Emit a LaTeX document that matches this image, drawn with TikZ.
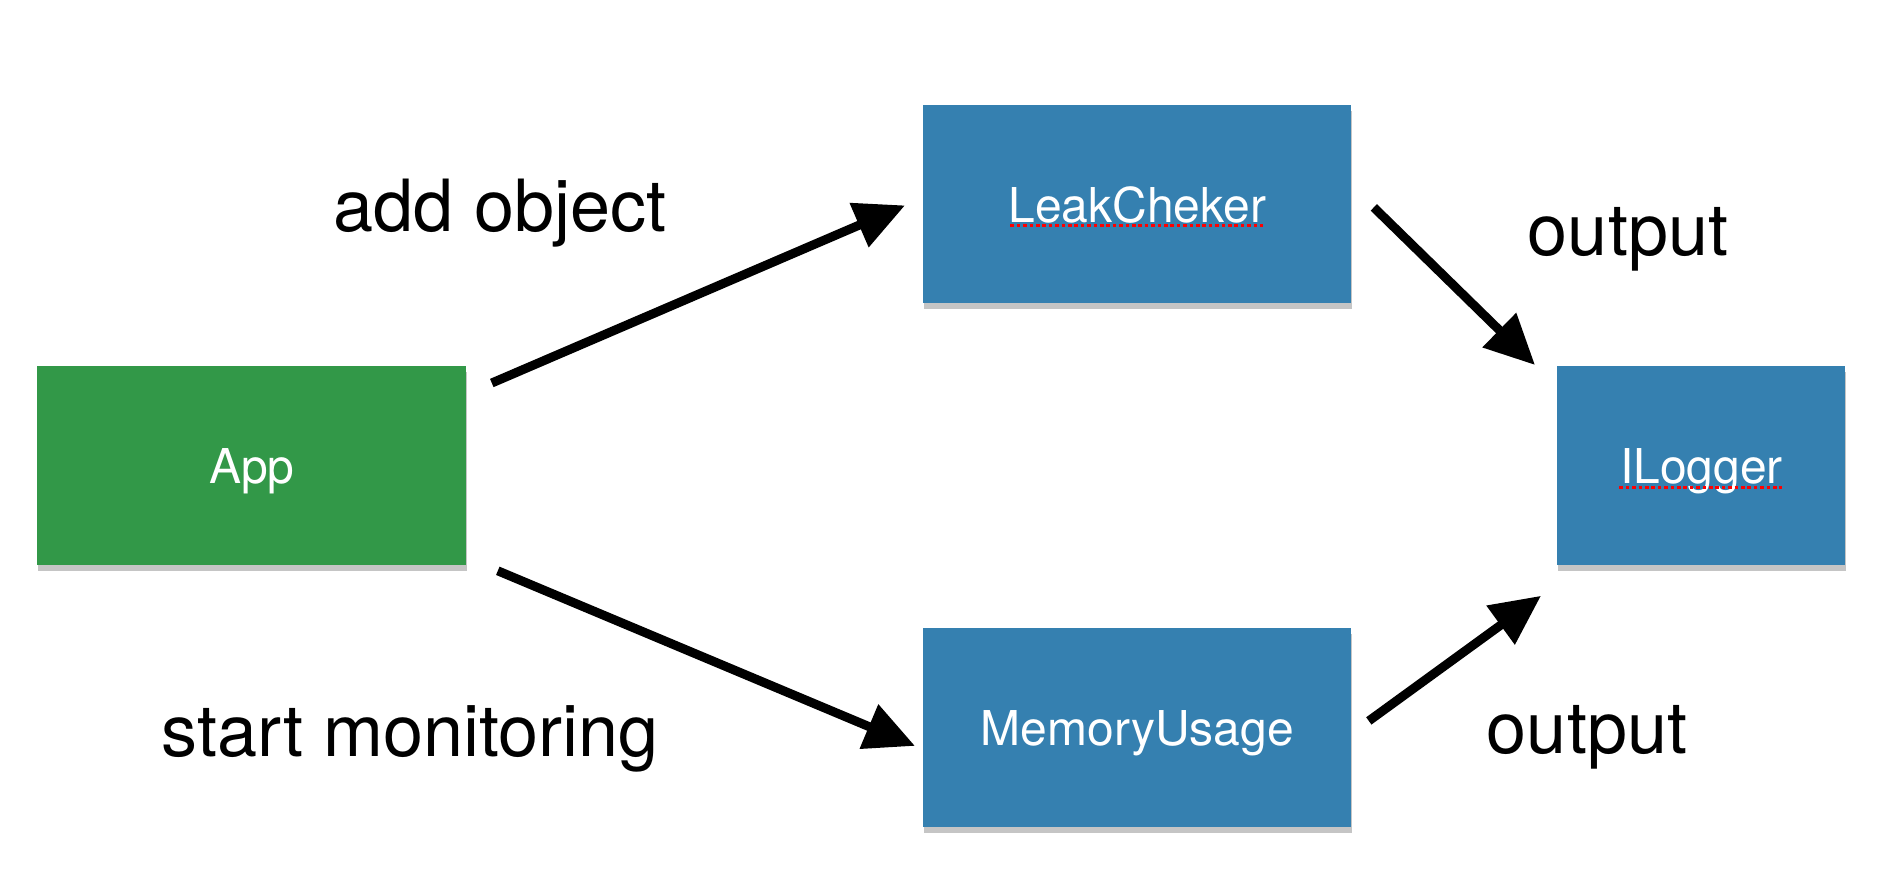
\documentclass[tikz,border=0pt]{standalone}
\usepackage{fontspec}
\setmainfont{TeX Gyre Heros}
\usetikzlibrary{arrows.meta,shadows,calc}
\definecolor{appgreen}{RGB}{50,152,72}
\definecolor{boxblue}{RGB}{53,128,176}
\begin{document}
\begin{tikzpicture}[x=0.5pt,y=-0.5pt,
  box/.style={draw=none, inner sep=0pt, anchor=north west, text=white,
    font=\fontsize{24}{28}\selectfont, text height=18pt, text depth=0pt,
    drop shadow={shadow xshift=0.5pt, shadow yshift=-3pt, opacity=0.35, fill=black!65}},
  lbl/.style={anchor=base, font=\fontsize{36}{42}\selectfont, inner sep=0pt},
  arr/.style={line width=4.5pt, black, -{Triangle[length=25pt,width=23pt]}},
  spell/.style={red, line width=1.8pt, dash pattern=on 1.8pt off 1.4pt}]
\useasboundingbox (0,0) rectangle (1888,868);
% boxes
\node[box, fill=appgreen, minimum width=214.5pt, minimum height=99.5pt] (app) at (37,366) {App};
\node[box, fill=boxblue, minimum width=214pt, minimum height=99pt] (leak) at (923,105) {LeakCheker};
\node[box, fill=boxblue, minimum width=214pt, minimum height=99.5pt] (mem) at (923,628) {MemoryUsage};
\node[box, fill=boxblue, minimum width=144pt, minimum height=99.5pt] (log) at (1557,366) {ILogger};
% spell-check underlines
\draw[spell] ($(leak.center)+(-127,21)$) -- ($(leak.center)+(126,21)$);
\draw[spell] ($(log.center)+(-82,21.5)$) -- ($(log.center)+(81,21.5)$);
% labels
\node[lbl] (l1) at (500,231) {add object};
\node[lbl] (l2) at (1628,255) {output};
\node[lbl] (l3) at (410,756) {start monitoring};
\node[lbl] (l4) at (1587,753) {output};
% arrow ends
\coordinate (a1s) at ($(app.north east)+(25,17)$);
\coordinate (a1e) at ($(leak.west)+(-18,1)$);
\coordinate (a2s) at ($(app.south east)+(31,5)$);
\coordinate (a2e) at ($(mem.west)+(-8,18)$);
\coordinate (a3s) at ($(leak.east)+(22,3)$);
\coordinate (a3e) at ($(log.north west)+(-22,-1)$);
\coordinate (a4s) at ($(mem.east)+(17,-7)$);
\coordinate (a4e) at ($(log.south west)+(-16,30)$);
\draw[arr] (a1s) -- (a1e);
\draw[arr] (a2s) -- (a2e);
\draw[arr] (a3s) -- (a3e);
\draw[arr] (a4s) -- (a4e);
\end{tikzpicture}
\end{document}
